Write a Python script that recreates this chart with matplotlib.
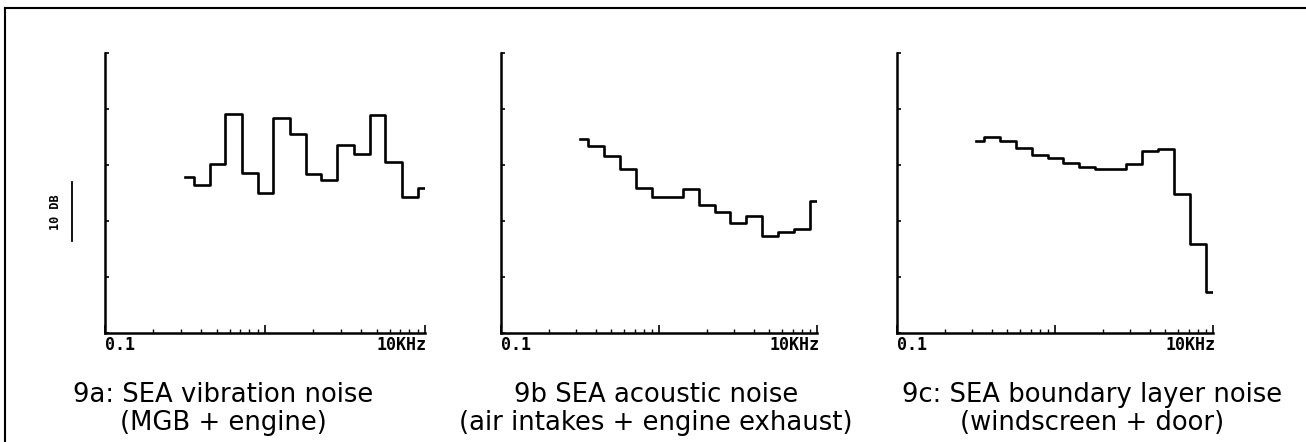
import matplotlib.pyplot as plt
import matplotlib.ticker as mticker
from matplotlib.lines import Line2D
import numpy as np

# 1/3 octave band centres (kHz)
freqs = [0.315, 0.4, 0.5, 0.63, 0.8, 1.0, 1.25, 1.6, 2.0, 2.5,
         3.15, 4.0, 5.0, 6.3, 8.0, 10.0]

# levels in dB (relative, 10 dB per division)
vib_noise = [27.9, 26.4, 30.2, 39.1, 28.6, 25.0, 38.4, 35.5, 28.4, 27.3,
             33.6, 32.0, 38.9, 30.5, 24.3, 25.9]
acoustic_noise = [34.6, 33.4, 31.6, 29.3, 25.9, 24.3, 24.3, 25.7, 22.9, 21.6,
                  19.6, 20.9, 17.3, 18.0, 18.6, 23.6]
boundary_noise = [34.3, 35.0, 34.3, 33.0, 31.8, 31.3, 30.4, 29.6, 29.3, 29.3,
                  30.2, 32.5, 32.9, 24.8, 15.9, 7.3]

captions = ["9a: SEA vibration noise\n(MGB + engine)",
            "9b SEA acoustic noise\n(air intakes + engine exhaust)",
            "9c: SEA boundary layer noise\n(windscreen + door)"]
series = [vib_noise, acoustic_noise, boundary_noise]

W, H = 1306, 442
fig = plt.figure(figsize=(W / 100, H / 100), dpi=100)

# axes placement in pixels (left, right), shared top/bottom
ax_lr = [(105, 425), (501, 817), (897, 1213)]
top_px, bot_px = 53, 333
cap_x = [223, 656, 1092]

mono = {'family': 'DejaVu Sans Mono', 'weight': 'bold', 'size': 12}

for i, (l, r) in enumerate(ax_lr):
    ax = fig.add_axes([l / W, (H - bot_px) / H, (r - l) / W, (bot_px - top_px) / H])
    ax.step(freqs, series[i], where='mid', color='black', lw=1.9)
    ax.set_xscale('log')
    ax.set_xlim(0.1, 10.0)
    ax.set_ylim(0, 50)
    for s in ['top', 'right']:
        ax.spines[s].set_visible(False)
    for s in ['left', 'bottom']:
        ax.spines[s].set_linewidth(1.8)
    ax.set_yticks(np.arange(0, 51, 10))
    ax.yaxis.set_major_formatter(mticker.NullFormatter())
    ax.tick_params(axis='y', direction='in', length=3, width=1.2)
    ax.xaxis.set_major_locator(mticker.LogLocator(base=10))
    ax.xaxis.set_minor_locator(mticker.LogLocator(base=10, subs=np.arange(2, 10)))
    ax.xaxis.set_major_formatter(mticker.NullFormatter())
    ax.xaxis.set_minor_formatter(mticker.NullFormatter())
    ax.tick_params(axis='x', which='major', direction='in', length=6, width=1.2)
    ax.tick_params(axis='x', which='minor', direction='in', length=3, width=1.0)
    ax.set_facecolor('none')

    ax.text(0.0, -0.01, "0.1", transform=ax.transAxes, ha='left', va='top',
            fontdict=mono)
    ax.text(0.85, -0.01, "10KHz", transform=ax.transAxes, ha='left', va='top',
            fontdict=mono)

    fig.text(cap_x[i] / W, 1 - 409 / H, captions[i], ha='center', va='center',
             fontsize=18.6, family='DejaVu Sans', linespacing=1.15)

    if i == 0:
        # 10 dB scale bar
        ax.plot([-0.103, -0.103], [16.5, 27.0], color='black', lw=1.3,
                transform=ax.get_yaxis_transform(), clip_on=False)
        ax.text(-0.156, 21.5, "10 DB", rotation=90, ha='center', va='center',
                transform=ax.get_yaxis_transform(),
                fontdict={'family': 'DejaVu Sans Mono', 'weight': 'bold', 'size': 8.5})

# page border
fig.add_artist(Line2D([5 / W, 1.0], [1 - 8 / H, 1 - 8 / H], color='black', lw=1.5))
fig.add_artist(Line2D([5 / W, 5 / W], [0.0, 1 - 8 / H], color='black', lw=1.5))

fig.savefig("out.png", dpi=100)
